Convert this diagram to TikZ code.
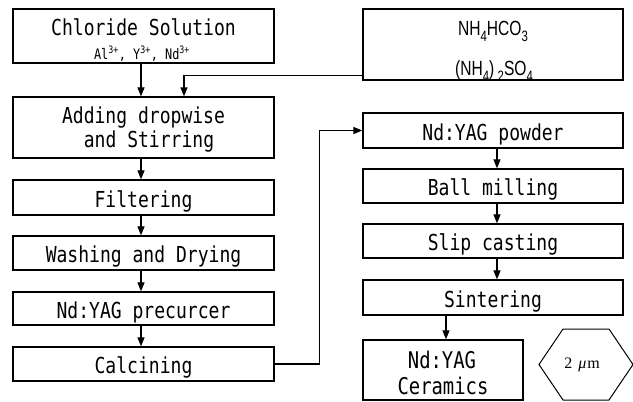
\documentclass[tikz,border=0pt]{standalone}
\usepackage{fontspec}
\setmainfont{DejaVu Sans Mono}[FakeStretch=0.82]
\newfontfamily\chemfont{Liberation Sans}[FakeStretch=0.76]
\newfontfamily\serfont{Liberation Serif}
\usetikzlibrary{arrows.meta,calc}
\newcommand\csub[1]{\raisebox{-0.32em}{\fontsize{15}{15}\selectfont #1}}
\begin{document}
\begin{tikzpicture}[x=1pt,y=-1pt,
  box/.style={draw, line width=1.3pt, inner sep=0pt, text height=19pt, text depth=0pt,
              font=\fontsize{22}{24}\selectfont},
  lbox/.style={box, minimum width=261pt},
  rbox/.style={box, minimum width=260pt},
  txt/.style={inner sep=0pt, anchor=base, font=\fontsize{22}{24}\selectfont},
  chem/.style={inner sep=0pt, anchor=base, font=\chemfont\fontsize{20.5}{22}\selectfont},
  arr/.style={-{Triangle[length=9pt,width=7pt]}, line width=1.2pt}]
\useasboundingbox (0,0) rectangle (633,402);

% left column
\node[lbox, minimum height=54pt] (chl) at (143.5,36) {};
\node[txt] (chl1) at (143.5,35) {Chloride Solution};
\node[txt, font=\fontsize{14.5}{15}\selectfont] (chl2) at (142,59)
  {Al\textsuperscript{3+}, Y\textsuperscript{3+}, Nd\textsuperscript{3+}};

\node[lbox, minimum height=61pt] (add) at (143.5,127.5) {};
\node[txt] (add1) at (143.5,123) {Adding dropwise};
\node[txt] (add2) at (149,147) {and Stirring};

\node[lbox, minimum height=35pt] (fil) at (143.5,197.5) {Filtering};
\node[lbox, minimum height=34pt] (wash) at (143.5,253) {Washing and Drying};
\node[lbox, minimum height=33pt] (pre) at (143.5,308.5) {Nd:YAG precurcer};
\node[lbox, minimum height=34pt] (calc) at (143.5,364) {Calcining};

% right column
\node[rbox, minimum height=71pt] (nh) at (493,44.5) {};
\node[chem] (nh1) at (493,35) {NH\csub{4}HCO\csub{3}};
\node[chem] (nh2) at (494,75) {(NH\csub{4})\,\csub{2}SO\csub{4}};

\node[rbox, minimum height=35pt] (pow) at (493,130.5) {Nd:YAG powder};
\node[rbox, minimum height=34pt] (ball) at (493,186) {Ball milling};
\node[rbox, minimum height=34pt] (slip) at (493,241) {Slip casting};
\node[rbox, minimum height=35pt] (sint) at (493,297.5) {Sintering};

\node[box, minimum width=160pt, minimum height=60pt] (cer) at (443,370) {};
\node[txt, font=\fontsize{23}{24}\selectfont] (cer1) at (442,368) {Nd:YAG};
\node[txt, font=\fontsize{23}{24}\selectfont] (cer2) at (443,394) {Ceramics};

% hexagon
\draw[line width=1pt] (539,364.5) -- (563,329) -- (609,329) -- (633,364.5)
  -- (609,400) -- (563,400) -- cycle;
\node[inner sep=0pt, anchor=base, font=\serfont\fontsize{16}{18}\selectfont] (hexl) at (582,368)
  {2\hspace{6pt}\textit{μ}\hspace{1pt}m};

% arrows left
\draw[arr] ([xshift=-2.5pt]chl.south) -- ([xshift=-2.5pt]add.north);
\draw[arr] ([yshift=5pt]nh.south west) -| ([xshift=40.5pt]add.north);
\draw[arr] ([xshift=-2.5pt]add.south) -- ([xshift=-2.5pt]fil.north);
\draw[arr] ([xshift=-2.5pt]fil.south) -- ([xshift=-2.5pt]wash.north);
\draw[arr] ([xshift=-2.5pt]wash.south) -- ([xshift=-2.5pt]pre.north);
\draw[arr] ([xshift=-2.5pt]pre.south) -- ([xshift=-2.5pt]calc.north);
% calcining to powder
\draw[arr] (calc.east) -- ++(45,0) |- (pow.west);
% arrows right
\draw[arr] ([xshift=4pt]pow.south) -- ([xshift=4pt]ball.north);
\draw[arr] ([xshift=4pt]ball.south) -- ([xshift=4pt]slip.north);
\draw[arr] ([xshift=4pt]slip.south) -- ([xshift=4pt]sint.north);
\draw[arr] ([xshift=3pt]cer.north |- sint.south) -- ([xshift=3pt]cer.north);
\end{tikzpicture}
\end{document}
